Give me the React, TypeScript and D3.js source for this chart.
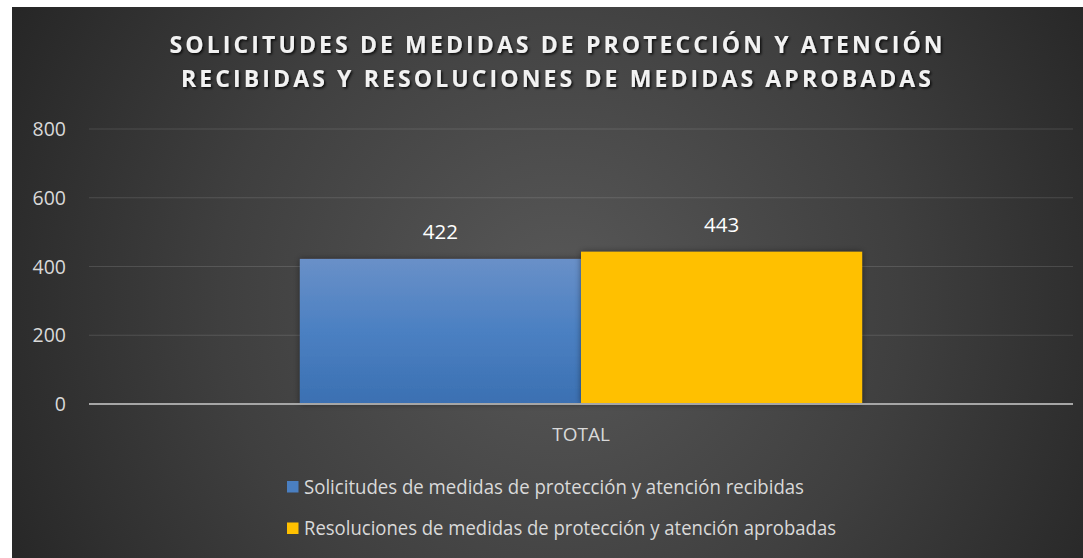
import React from "react";
import * as d3 from "d3";

const categories: string[] = ["TOTAL"];
const seriesNames: string[] = [
  "Solicitudes de medidas de protección y atención recibidas",
  "Resoluciones de medidas de protección y atención aprobadas",
];
const seriesValues: number[] = [422, 443];
const yTicks: number[] = [0, 200, 400, 600, 800];
const titleLines: string[] = [
  "SOLICITUDES DE MEDIDAS DE PROTECCIÓN Y ATENCIÓN",
  "RECIBIDAS Y RESOLUCIONES DE MEDIDAS APROBADAS",
];

const W = 1083;
const H = 558;
const FONT = "'Open Sans', 'Noto Sans', sans-serif";

export default function App() {
  const plotLeft = 89;
  const plotRight = 1073;
  const plotTop = 129;
  const plotBottom = 404;

  const y = d3.scaleLinear().domain([0, 800]).range([plotBottom, plotTop]);
  const x0 = d3
    .scaleBand<string>()
    .domain(categories)
    .range([plotLeft, plotRight])
    .paddingInner(0)
    .paddingOuter(0.375);
  const x1 = d3
    .scaleBand<string>()
    .domain(seriesNames)
    .range([0, x0.bandwidth()])
    .padding(0);

  const fills = ["url(#blueGrad)", "#FFC000"];
  const legendColors = ["#4a7fc1", "#FFC000"];
  const legendWidths = [500, 532];

  return (
    <svg
      width={W}
      height={H}
      style={{ position: "absolute", left: 0, top: 0, display: "block" }}
    >
      <defs>
        <radialGradient
          id="bgGrad"
          gradientUnits="userSpaceOnUse"
          cx={560}
          cy={300}
          r={620}
        >
          <stop offset="0" stopColor="#585858" />
          <stop offset="0.55" stopColor="#3f3f3f" />
          <stop offset="1" stopColor="#262626" />
        </radialGradient>
        <linearGradient id="blueGrad" x1="0" y1="0" x2="0" y2="1">
          <stop offset="0" stopColor="#6990c8" />
          <stop offset="0.5" stopColor="#4b80c2" />
          <stop offset="1" stopColor="#3b70b2" />
        </linearGradient>
        <filter id="barShadow" x="-10%" y="-10%" width="120%" height="120%">
          <feDropShadow dx="0" dy="0" stdDeviation="3" floodColor="#000" floodOpacity="0.45" />
        </filter>
        <filter id="titleShadow" x="-5%" y="-30%" width="110%" height="160%">
          <feDropShadow dx="1.5" dy="1.5" stdDeviation="1.2" floodColor="#000" floodOpacity="0.8" />
        </filter>
      </defs>

      <rect x={0} y={0} width={W} height={H} fill="#ffffff" />
      <rect x={12} y={7} width={W - 12} height={H - 7} fill="url(#bgGrad)" />

      {/* Title */}
      <g filter="url(#titleShadow)">
        <text
          x={556}
          y={53}
          textAnchor="middle"
          fontFamily={FONT}
          fontWeight="bold"
          fontSize={23}
          fill="#f2f2f2"
          textLength={773}
          lengthAdjust="spacing"
        >
          {titleLines[0]}
        </text>
        <text
          x={556}
          y={87}
          textAnchor="middle"
          fontFamily={FONT}
          fontWeight="bold"
          fontSize={23}
          fill="#f2f2f2"
          textLength={750}
          lengthAdjust="spacing"
        >
          {titleLines[1]}
        </text>
      </g>

      {/* Gridlines */}
      {yTicks.map((t) =>
        t === 0 ? null : (
          <line
            key={t}
            x1={plotLeft}
            x2={plotRight}
            y1={y(t)}
            y2={y(t)}
            stroke="rgba(255,255,255,0.13)"
            strokeWidth={1.2}
          />
        )
      )}

      {/* Y labels */}
      {yTicks.map((t) => (
        <text
          key={"l" + t}
          x={66}
          y={y(t) + 7}
          textAnchor="end"
          fontFamily={FONT}
          fontSize={19.5}
          fill="#d9d9d9"
        >
          {t}
        </text>
      ))}

      {/* Bars */}
      {categories.map((c) => (
        <g key={c}>
          {seriesNames.map((s, i) => {
            const bx = (x0(c) as number) + (x1(s) as number);
            const by = y(seriesValues[i]);
            return (
              <rect
                key={s}
                x={bx}
                y={by}
                width={x1.bandwidth()}
                height={plotBottom - by}
                fill={fills[i]}
                filter="url(#barShadow)"
              />
            );
          })}
        </g>
      ))}

      {/* Axis line */}
      <line
        x1={plotLeft}
        x2={plotRight}
        y1={plotBottom}
        y2={plotBottom}
        stroke="#a6a6a6"
        strokeWidth={2}
      />

      {/* Data labels */}
      {categories.map((c) =>
        seriesNames.map((s, i) => {
          const cx = (x0(c) as number) + (x1(s) as number) + x1.bandwidth() / 2;
          return (
            <text
              key={"d" + s}
              x={cx}
              y={y(seriesValues[i]) - 20}
              textAnchor="middle"
              fontFamily={FONT}
              fontSize={20.5}
              fill="#ffffff"
            >
              {seriesValues[i]}
            </text>
          );
        })
      )}

      {/* Category label */}
      {categories.map((c) => (
        <text
          key={"c" + c}
          x={(x0(c) as number) + x0.bandwidth() / 2}
          y={441}
          textAnchor="middle"
          fontFamily={FONT}
          fontSize={19}
          fill="#d9d9d9"
        >
          {c}
        </text>
      ))}

      {/* Legend */}
      {seriesNames.map((s, i) => (
        <g key={"lg" + s} transform={`translate(287, ${481 + i * 41.5})`}>
          <rect x={0} y={0} width={11.5} height={11.5} fill={legendColors[i]} />
          <text
            x={17}
            y={12.5}
            fontFamily={FONT}
            fontSize={19.5}
            fill="#d9d9d9"
            textLength={legendWidths[i]}
            lengthAdjust="spacingAndGlyphs"
          >
            {s}
          </text>
        </g>
      ))}
    </svg>
  );
}
